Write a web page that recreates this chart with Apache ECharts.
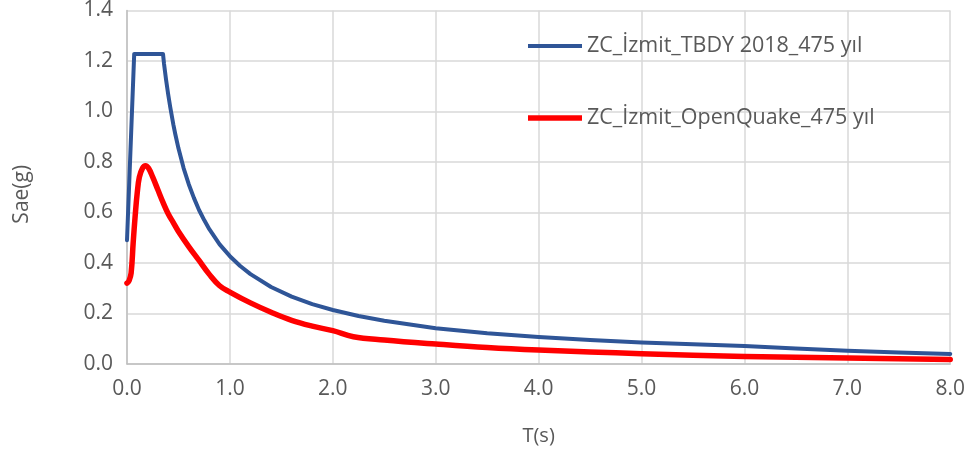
<!DOCTYPE html>
<html>
<head>
<meta charset="utf-8">
<script src="https://cdn.jsdelivr.net/npm/echarts@6/dist/echarts.min.js"></script>
<style>
html,body{margin:0;padding:0;background:#fff;}
#chart{width:968px;height:455px;}
</style>
</head>
<body>
<div id="chart"></div>
<script>
// Series names
const seriesNames = ['ZC_İzmit_TBDY 2018_475 yıl', 'ZC_İzmit_OpenQuake_475 yıl'];

// TBDY 2018 spectrum (period T in s, Sae in g)
const tbdyT   = [0, 0.07, 0.35, 0.36, 0.38, 0.40, 0.42, 0.45, 0.47, 0.50, 0.55, 0.60, 0.65, 0.70, 0.75, 0.80, 0.90, 1.0, 1.1, 1.2, 1.4, 1.6, 1.8, 2.0, 2.25, 2.5, 3.0, 3.5, 4.0, 4.5, 5.0, 5.5, 6.0, 6.5, 7.0, 7.5, 8.0];
const tbdySae = [0.49, 1.228, 1.228, 1.188, 1.125, 1.068, 1.018, 0.949, 0.909, 0.854, 0.776, 0.712, 0.658, 0.61, 0.57, 0.534, 0.474, 0.427, 0.388, 0.356, 0.305, 0.267, 0.237, 0.214, 0.19, 0.171, 0.142, 0.122, 0.107, 0.095, 0.085, 0.078, 0.071, 0.061, 0.052, 0.046, 0.040];

// OpenQuake spectrum
const oqT   = [0, 0.02, 0.04, 0.06, 0.08, 0.10, 0.12, 0.15, 0.18, 0.21, 0.25, 0.30, 0.35, 0.40, 0.45, 0.50, 0.60, 0.70, 0.80, 0.90, 1.00, 1.20, 1.40, 1.60, 1.80, 2.00, 2.20, 2.50, 3.00, 3.50, 4.00, 4.50, 5.00, 6.00, 7.00, 8.00];
const oqSae = [0.32, 0.33, 0.36, 0.48, 0.59, 0.68, 0.74, 0.775, 0.785, 0.775, 0.74, 0.69, 0.64, 0.595, 0.56, 0.525, 0.465, 0.41, 0.355, 0.31, 0.285, 0.242, 0.205, 0.173, 0.15, 0.132, 0.108, 0.095, 0.079, 0.065, 0.055, 0.048, 0.041, 0.030, 0.024, 0.018];

// Axis settings
const xMin = 0, xMax = 8, xStep = 1;
const yMin = 0, yMax = 1.4, yStep = 0.2;
const xTitle = 'T(s)';
const yTitle = 'Sae(g)';

const font = '"Open Sans", "DejaVu Sans", sans-serif';
const textColor = '#595959';

const chart = echarts.init(document.getElementById('chart'), null, {renderer: 'canvas'});
chart.setOption({
  animation: false,
  backgroundColor: '#ffffff',
  grid: {left: 127, right: 15, top: 10, bottom: 91, containLabel: false},
  legend: {
    orient: 'vertical',
    left: 528,
    top: 34,
    padding: 0,
    itemWidth: 54,
    itemHeight: 24,
    itemGap: 48,
    textStyle: {fontFamily: font, fontSize: 21.5, color: textColor, lineHeight: 24},
    data: [
      {name: seriesNames[0], icon: 'path://M0,0 L54,0 L54,4 L0,4 Z'},
      {name: seriesNames[1], icon: 'path://M0,0 L54,0 L54,5.5 L0,5.5 Z'}
    ]
  },
  xAxis: {
    type: 'value',
    min: xMin, max: xMax, interval: xStep,
    name: xTitle,
    nameLocation: 'middle',
    nameGap: 62,
    nameTextStyle: {fontFamily: font, fontSize: 20, color: textColor, verticalAlign: 'top'},
    axisLine: {show: true, lineStyle: {color: '#bfbfbf', width: 1.5}},
    axisTick: {show: false},
    splitLine: {show: true, lineStyle: {color: '#d9d9d9', width: 1.5}},
    axisLabel: {fontFamily: font, fontSize: 21, color: textColor, margin: 15, formatter: v => v.toFixed(1)}
  },
  yAxis: {
    type: 'value',
    min: yMin, max: yMax, interval: yStep,
    name: yTitle,
    nameLocation: 'middle',
    nameGap: 94,
    nameRotate: 90,
    nameTextStyle: {fontFamily: font, fontSize: 21, color: textColor, padding: [0, 14, 0, 0]},
    axisLine: {show: true, lineStyle: {color: '#bfbfbf', width: 1.5}},
    axisTick: {show: false},
    splitLine: {show: true, lineStyle: {color: '#d9d9d9', width: 1.5}},
    axisLabel: {fontFamily: font, fontSize: 21, color: textColor, margin: 14, formatter: v => v.toFixed(1)}
  },
  series: [
    {
      name: seriesNames[0],
      type: 'line',
      symbol: 'none',
      smooth: false,
      lineStyle: {color: '#2f5597', width: 4, cap: 'round', join: 'round'},
      itemStyle: {color: '#2f5597'},
      data: tbdyT.map((t, i) => [t, tbdySae[i]])
    },
    {
      name: seriesNames[1],
      type: 'line',
      symbol: 'none',
      smooth: 0.4,
      lineStyle: {color: '#ff0000', width: 5.5, cap: 'round', join: 'round'},
      itemStyle: {color: '#ff0000'},
      data: oqT.map((t, i) => [t, oqSae[i]])
    }
  ]
});
</script>
</body>
</html>
